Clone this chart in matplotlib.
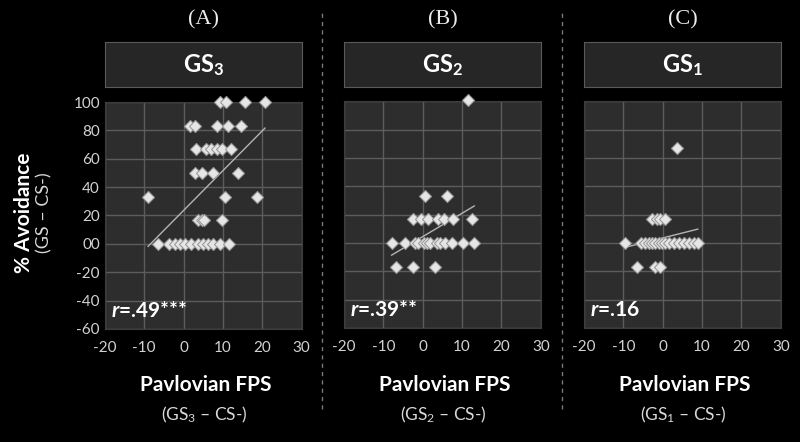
import numpy as np
import matplotlib
matplotlib.use("Agg")
import matplotlib.pyplot as plt
from matplotlib.lines import Line2D

plt.rcParams['font.family'] = ['Lato', 'DejaVu Sans']
plt.rcParams['mathtext.fontset'] = 'custom'
plt.rcParams['mathtext.rm'] = 'Lato'
plt.rcParams['mathtext.bf'] = 'Lato:bold'
plt.rcParams['mathtext.it'] = 'Lato:italic:bold'
plt.rcParams['axes.unicode_minus'] = False

# datos
gsA_x = [9.2, 10.9, 15.6, 20.7,
         1.6, 2.9, 8.4, 11.4, 14.5,
         3.1, 5.8, 7.1, 8.4, 9.7, 12.0,
         2.9, 4.6, 7.5, 13.9,
         -9.0, 10.5, 18.6,
         3.7, 4.6, 5.2, 9.7,
         -6.4, -3.6, -2.2, -0.9, 0.3, 2.0, 3.7, 5.0, 6.3, 7.5, 9.2, 11.5]
gsA_y = [100, 100, 100, 100,
         83, 83, 83, 83, 83,
         67, 67, 67, 67, 67, 67,
         50, 50, 50, 50,
         33, 33, 33,
         17, 17, 17, 17,
         0, 0, 0, 0, 0, 0, 0, 0, 0, 0, 0, 0]

gsB_x = [11.4,
         0.6, 6.1,
         -2.4, -0.5, 1.4, 4.0, 5.4, 7.8, 12.5,
         -7.9, -4.5, -2.0, -1.1, 0.2, 1.0, 1.9, 3.6, 4.4, 5.7, 7.4, 10.3, 13.1,
         -6.8, -2.4, 3.1]
gsB_y = [101,
         33, 33,
         17, 17, 17, 17, 17, 17, 17,
         0, 0, 0, 0, 0, 0, 0, 0, 0, 0, 0, 0, 0,
         -17, -17, -17]

gsC_x = [3.6,
         -2.7, -1.5, -0.6, 0.7,
         -9.5, -5.5, -4.4, -3.6, -2.7, -1.9, -1.0, -0.2, 0.7, 1.5, 2.8, 4.1,
         5.3, 6.6, 7.9, 8.9,
         -6.6, -1.9, -0.8]
gsC_y = [67,
         17, 17, 17, 17,
         0, 0, 0, 0, 0, 0, 0, 0, 0, 0, 0, 0, 0, 0, 0, 0,
         -17, -17, -17]

paneles = ['(A)', '(B)', '(C)']
titulos = [r'$\mathbf{GS_3}$', r'$\mathbf{GS_2}$', r'$\mathbf{GS_1}$']
subx = [r'(GS$_\mathrm{3}$ – CS-)', r'(GS$_\mathrm{2}$ – CS-)', r'(GS$_\mathrm{1}$ – CS-)']
r_txt = [r'$\mathit{r}$=.49***', r'$\mathit{r}$=.39**', r'$\mathit{r}$=.16']
xticks = [-20, -10, 0, 10, 20, 30]
yticks = [100, 80, 60, 40, 20, 0, -20, -40, -60]
ytick_labels = ['100', '80', '60', '40', '20', '00', '-20', '-40', '-60']

datos = [(gsA_x, gsA_y), (gsB_x, gsB_y), (gsC_x, gsC_y)]

fig = plt.figure(figsize=(8, 4.42), dpi=100)
fig.patch.set_facecolor('black')

lefts = [0.131, 0.430, 0.730]
bottoms = [0.256, 0.258, 0.258]
alto = 0.513

for i in range(3):
    ax = fig.add_axes([lefts[i], bottoms[i], 0.246, alto])
    ax.set_facecolor('#2d2d2d')
    ax.set_xlim(-20, 30)
    ax.set_ylim(-60, 100)
    ax.set_xticks(xticks)
    ax.set_yticks(yticks)
    ax.grid(True, color='#5c5c5c', lw=1)
    ax.set_axisbelow(True)
    for s in ax.spines.values():
        s.set_color('#3c3c3c')
    ax.tick_params(length=0, colors='#d2d2d2', labelsize=11)
    ax.tick_params(axis='x', pad=9)
    if i == 0:
        ax.set_yticklabels(ytick_labels)
    else:
        ax.set_yticklabels([])

    x = np.array(datos[i][0])
    y = np.array(datos[i][1])
    m, b = np.polyfit(x, y, 1)
    xl = np.array([x.min(), x.max()])
    ax.plot(xl, m * xl + b, color='#b4b4b4', lw=1, zorder=2)
    ax.plot(x, y, 'D', ms=6, mfc='#e6e6e6', mec='#9a9a9a', mew=0.8,
            zorder=3, clip_on=False)

    ax.text(0.03, 0.035, r_txt[i], transform=ax.transAxes, color='white',
            fontsize=15, fontweight='bold', ha='left', va='bottom')

    # caja del titulo
    tax = fig.add_axes([lefts[i], 0.803, 0.246, 0.102])
    tax.set_facecolor('#262626')
    tax.set_xticks([])
    tax.set_yticks([])
    for s in tax.spines.values():
        s.set_color('#5a5a5a')
    tax.text(0.5, 0.48, titulos[i], color='white', fontsize=17,
             ha='center', va='center', transform=tax.transAxes)

    cx = lefts[i] + 0.123
    fig.text(cx, 0.955, paneles[i], color='#ececec', fontsize=16,
             family='Liberation Serif', ha='center', va='center')
    fig.text(cx + 0.003, 0.128, 'Pavlovian FPS', color='white', fontsize=15,
             fontweight='bold', ha='center', va='center')
    fig.text(cx + 0.001, 0.062, subx[i], color='#d8d8d8', fontsize=12.5,
             ha='center', va='center')

fig.text(0.03, 0.518, '% Avoidance', color='white', fontsize=15,
         fontweight='bold', rotation=90, ha='center', va='center')
fig.text(0.055, 0.518, '(GS – CS-)', color='#d8d8d8', fontsize=13,
         rotation=90, ha='center', va='center')

# lineas separadoras
for xs in [0.402, 0.703]:
    fig.add_artist(Line2D([xs, xs], [0.075, 0.975], transform=fig.transFigure,
                          color='#7a7a7a', lw=1, ls=(0, (3, 3))))

fig.savefig('out.png', dpi=100, facecolor='black')
